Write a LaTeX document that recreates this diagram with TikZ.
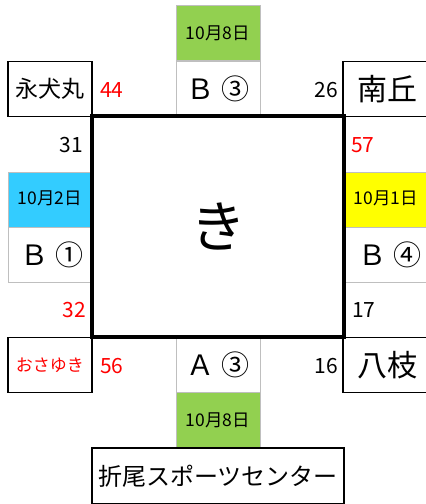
\documentclass[tikz,border=0pt]{standalone}
\usepackage{fontspec}
\setmainfont{Noto Sans CJK JP}
\definecolor{xgreen}{HTML}{92D050}
\definecolor{xblue}{HTML}{33CCFF}
\definecolor{xyellow}{HTML}{FFFF00}
\definecolor{xred}{HTML}{FF0000}
\definecolor{xgray}{HTML}{BFBFBF}
\begin{document}
\begin{tikzpicture}[x=1pt,y=-1pt,
  cell/.style={draw=xgray, line width=0.8pt, minimum width=84pt, minimum height=55pt, inner sep=0pt, anchor=center},
  place/.style={draw=black, line width=1.4pt, minimum width=84pt, minimum height=55pt, inner sep=0pt, anchor=center},
  datetext/.style={font=\fontsize{17.5}{17.5}\selectfont},
  bltext/.style={font=\fontsize{28}{28}\selectfont},
  num/.style={font=\fontsize{21}{21}\selectfont, inner sep=0pt},
  rednum/.style={num, text=xred}]
\useasboundingbox (0,0) rectangle (426,504);
% cells
\node[cell, fill=xgreen] (tg) at (218,33) {};
\node[cell] (tw) at (218,89) {};
\node[cell, fill=xblue] (lb) at (50,200) {};
\node[cell] (lw) at (50,255) {};
\node[cell, fill=xyellow, minimum width=86pt] (ry) at (387,200) {};
\node[cell, minimum width=86pt] (rw) at (387,255) {};
\node[cell] (bw) at (218,365) {};
\node[cell, fill=xgreen] (bg) at (218,420) {};
% cell texts
\node[datetext] (tgt) at (218,33) {10月8日};
\node[bltext] (twt) at (218,89) {Ｂ ③};
\node[datetext] (lbt) at (50,198) {10月2日};
\node[bltext] (lwt) at (52,255) {Ｂ ①};
\node[datetext] (ryt) at (386,198) {10月1日};
\node[bltext] (rwt) at (390,255) {Ｂ ④};
\node[bltext] (bwt) at (218,365) {Ａ ③};
\node[datetext] (bgt) at (218,420) {10月8日};
% place boxes
\node[place, font=\fontsize{23}{23}\selectfont] (eiinumaru) at (50,89) {永犬丸};
\node[place, minimum width=88pt, font=\fontsize{30}{30}\selectfont] (minamioka) at (387,89) {南丘};
\node[place, text=xred, font=\fontsize{17}{17}\selectfont] (osayuki) at (50,365) {おさゆき};
\node[place, minimum width=88pt, font=\fontsize{30}{30}\selectfont] (yaeda) at (387,365) {八枝};
\node[place, minimum width=252pt, minimum height=56pt, font=\fontsize{24}{24}\selectfont] (orio) at (218,476) {折尾スポーツセンター};
% main box
\node[draw=black, line width=4pt, minimum width=252pt, minimum height=221pt, inner sep=0pt, font=\fontsize{56}{56}\selectfont] (ki) at (218,226.5) {き};
% numbers
\node[rednum, anchor=west] (n44) at (100,90) {44};
\node[num, anchor=east] (n26) at (338,90) {26};
\node[num, anchor=east] (n31) at (83,145) {31};
\node[rednum, anchor=west] (n57) at (351,145) {57};
\node[rednum, anchor=east] (n32) at (86,310) {32};
\node[num, anchor=west] (n17) at (352,310) {17};
\node[rednum, anchor=west] (n56) at (100,366) {56};
\node[num, anchor=east] (n16) at (338,366) {16};
\end{tikzpicture}
\end{document}
